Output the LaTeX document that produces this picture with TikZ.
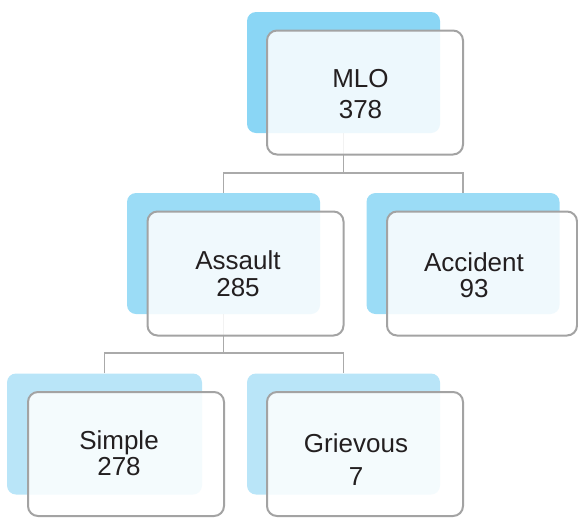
\documentclass[tikz,border=0pt]{standalone}
\usepackage{fontspec}
\setmainfont{Liberation Sans}
\definecolor{blueA}{RGB}{138,214,245}
\definecolor{blueB}{RGB}{155,220,246}
\definecolor{blueC}{RGB}{185,229,248}
\definecolor{edgegray}{RGB}{163,163,163}
\definecolor{linegray}{RGB}{170,170,170}
\definecolor{txt}{RGB}{35,31,32}
\begin{document}
\begin{tikzpicture}[x=1pt,y=-1pt,
  backbox/.style={rounded corners=9pt, inner sep=0pt, minimum width=193pt, minimum height=121pt},
  frontbox/.style={rounded corners=10pt, draw=edgegray, line width=2pt, fill=white, fill opacity=0.85,
     inner sep=0pt, minimum width=196pt, minimum height=124pt},
  label/.style={inner sep=0pt, align=center, text=txt},
  conn/.style={draw=linegray, line width=1.6pt}]
\useasboundingbox (0,0) rectangle (578,517);
% back boxes
\node[backbox, fill=blueA] (mloB) at (343.5,72.5) {};
\node[backbox, fill=blueB] (assB) at (223.5,253.5) {};
\node[backbox, fill=blueB] (accB) at (463,253.5) {};
\node[backbox, fill=blueC, minimum width=195pt] (simB) at (104.5,434) {};
\node[backbox, fill=blueC] (griB) at (343.5,434) {};
% connectors
\coordinate (bus1) at (343.5,173);
\coordinate (bus2) at (223.5,353);
\draw[conn] (mloB.south) -- (bus1);
\draw[conn] (assB.north) |- (bus1) -| (accB.north);
\draw[conn] (assB.south) -- (bus2);
\draw[conn] (simB.north) |- (bus2) -| (griB.north);
% front boxes
\node[frontbox] (mloW) at (365,92.5) {};
\node[frontbox] (assW) at (245.5,273.5) {};
\node[frontbox, minimum width=190pt] (accW) at (482,273.5) {};
\node[frontbox] (simW) at (126,454) {};
\node[frontbox] (griW) at (365,454) {};
% labels
\node[label, font=\fontsize{26}{31.5}\selectfont] (mloT) at ([xshift=-4.5pt,yshift=-1.5pt]mloW.center) {MLO\\378};
\node[label, font=\fontsize{26}{27}\selectfont] (assT) at ([xshift=-7.5pt,yshift=-0.5pt]assW.center) {Assault\\285};
\node[label, font=\fontsize{26}{26}\selectfont] (accT) at ([xshift=-8pt,yshift=-1.5pt]accW.center) {Accident\\93};
\node[label, font=\fontsize{26}{26}\selectfont] (simT) at ([xshift=-7pt,yshift=1pt]simW.center) {Simple\\278};
\node[label, font=\fontsize{26}{33}\selectfont] (griT) at ([xshift=-9pt,yshift=-5.5pt]griW.center) {Grievous\\7};
\end{tikzpicture}
\end{document}
